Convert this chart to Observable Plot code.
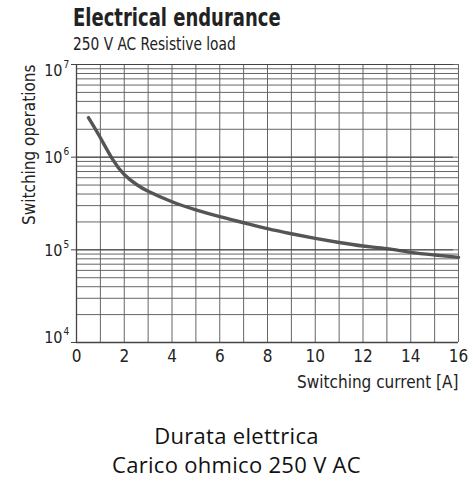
<!DOCTYPE html>
<html><head><meta charset="utf-8">
<script src="https://cdn.jsdelivr.net/npm/d3@7"></script>
<script src="https://cdn.jsdelivr.net/npm/@observablehq/plot@0.6"></script>
<style>
body{margin:0;background:#fff;}
#wrap{position:relative;width:473px;height:481px;overflow:hidden;background:#fff;}
.narrow{font-family:"DejaVu Sans Condensed",sans-serif;transform-origin:0 0;}
#title{position:absolute;left:73px;top:3px;font-size:25px;font-weight:bold;color:#222;white-space:nowrap;transform:scaleX(0.8);}
#subtitle{position:absolute;left:73px;top:34px;font-size:17px;color:#222;white-space:nowrap;transform:scaleX(0.9);}
#chart{position:absolute;left:0;top:0;}
#cap{position:absolute;left:0;width:473px;top:421px;text-align:center;font-family:"Open Sans",Roboto,sans-serif;font-size:22px;line-height:29px;color:#111;letter-spacing:0.3px;}
</style>
</head><body>
<div id="wrap">
  <div id="chart"></div>
  <div id="title" class="narrow">Electrical endurance</div>
  <div id="subtitle" class="narrow">250 V AC Resistive load</div>
  <div id="cap">Durata elettrica<br>Carico ohmico 250 V AC</div>
</div>
<script>
// Data
const current = [0.5, 1, 1.5, 2, 2.5, 3, 4, 5, 6, 7, 8, 9, 10, 11, 12, 13, 14, 15, 16];
const operations = [2.67e6, 1.62e6, 9.6e5, 6.5e5, 5.1e5, 4.28e5, 3.3e5, 2.7e5, 2.28e5, 1.96e5, 1.69e5, 1.49e5, 1.33e5, 1.2e5, 1.1e5, 1.03e5, 9.4e4, 8.8e4, 8.3e4];
const xTicks = [0, 2, 4, 6, 8, 10, 12, 14, 16];
const yTicks = [1e4, 1e5, 1e6, 1e7];
const yExponents = ["4", "5", "6", "7"];
const xLabel = "Switching current [A]";
const yLabel = "Switching operations";

const data = current.map((c, i) => ({current: c, ops: operations[i]}));
const xGrid = d3.range(0, 17);
const yGrid = [];
for (let e = 4; e < 7; e++) for (let m = 1; m < 10; m++) yGrid.push(m * Math.pow(10, e));
yGrid.push(1e7);

const font = '"DejaVu Sans Condensed",sans-serif';
const labelDy = v => v === 1e7 ? 6 : v === 1e4 ? -5 : 1;

const labelMarks = yTicks.flatMap((v, i) => [
  Plot.axisY([v], {tickFormat: () => "10", tickSize: 0, tickPadding: 14, fontSize: 16, dy: labelDy(v), fill: "#222", label: null}),
  Plot.text([v], {y: d => d, frameAnchor: "left", text: () => yExponents[i], dx: -13, dy: labelDy(v) - 6, textAnchor: "start", fontSize: 10, fill: "#222"})
]);

const chart = Plot.plot({
  width: 473,
  height: 400,
  marginLeft: 76,
  marginRight: 15,
  marginTop: 64,
  marginBottom: 58,
  style: {fontFamily: font, fontSize: "16px", color: "#222", background: "transparent"},
  x: {domain: [0, 16]},
  y: {type: "log", domain: [1e4, 1e7]},
  marks: [
    Plot.ruleX(xGrid, {stroke: "#666", strokeWidth: 1}),
    Plot.ruleY(yGrid, {stroke: "#666", strokeWidth: 1}),
    Plot.ruleX([0], {stroke: "#444", strokeWidth: 1.3}),
    Plot.ruleY([1e4], {stroke: "#444", strokeWidth: 1.3}),
    Plot.line(data, {x: "current", y: "ops", stroke: "#555", strokeWidth: 3.4, curve: "natural"}),
    Plot.axisX(xTicks, {tickSize: 0, tickPadding: 7, fontSize: 17, label: null}),
    Plot.text([xLabel], {frameAnchor: "bottom-right", textAnchor: "end", lineAnchor: "bottom", dy: 45, fontSize: 17, fill: "#222"}),
    Plot.tickY(yTicks, {frameAnchor: "left", dx: -5, stroke: "#444"}),
    ...labelMarks,
    Plot.text([yLabel], {frameAnchor: "top-left", rotate: -90, textAnchor: "end", dx: -54, fontSize: 17, fill: "#222"})
  ]
});
document.getElementById("chart").appendChild(chart);
</script>
</body></html>
